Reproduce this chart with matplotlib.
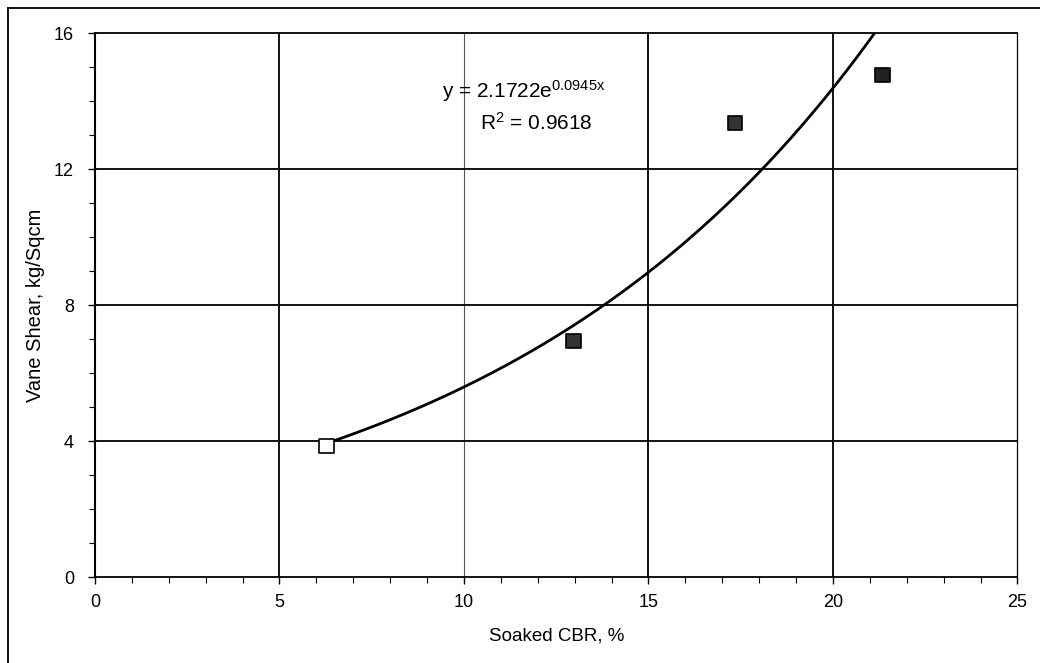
import numpy as np
import matplotlib
matplotlib.use("Agg")
import matplotlib.pyplot as plt
from matplotlib.lines import Line2D
from matplotlib.ticker import MultipleLocator

plt.rcParams['font.family'] = ['Liberation Sans', 'DejaVu Sans']
plt.rcParams['mathtext.default'] = 'regular'

# Measured pairs: soaked CBR (%) vs vane shear (kg/sq cm)
cbr = [6.27, 12.97, 17.35, 21.34]
vane_shear = [3.85, 6.94, 13.35, 14.76]
marker_faces = ['white', '#333333', '#333333', '#222222']

# Exponential trendline coefficients y = a * exp(b x)
fit_a = 2.1722
fit_b = 0.0945
fit_r2 = 0.9618

x_ticks = [0, 5, 10, 15, 20, 25]
y_ticks = [0, 4, 8, 12, 16]

fig = plt.figure(figsize=(10.4, 6.63), dpi=100)
ax = fig.add_axes([0.0913, 0.1297, 0.8870, 0.8205])

ax.set_xlim(0, 25)
ax.set_ylim(0, 16)
ax.set_xticks(x_ticks)
ax.set_yticks(y_ticks)
ax.xaxis.set_minor_locator(MultipleLocator(1))
ax.yaxis.set_minor_locator(MultipleLocator(1))
ax.tick_params(axis='both', which='major', direction='out', length=5, width=1,
               labelsize=13)
ax.tick_params(axis='x', which='major', pad=7)
ax.tick_params(axis='y', which='major', pad=10)
ax.tick_params(axis='both', which='minor', direction='out', length=4, width=0.8)

# gridlines
for xv in x_ticks[1:-1]:
    lw, col = (0.8, '#555555') if xv == 10 else (1.3, 'black')
    ax.axvline(xv, color=col, lw=lw, zorder=1)
for yv in y_ticks[1:-1]:
    ax.axhline(yv, color='black', lw=1.3, zorder=1)

for side in ['left', 'bottom', 'top', 'right']:
    ax.spines[side].set_color('black')
ax.spines['left'].set_linewidth(1.5)
ax.spines['bottom'].set_linewidth(1.3)
ax.spines['top'].set_linewidth(1.3)
ax.spines['right'].set_linewidth(0.9)

# trendline over the data range
xs = np.linspace(min(cbr), max(cbr), 300)
ax.plot(xs, fit_a * np.exp(fit_b * xs), color='black', lw=2.0, zorder=3)

ax.scatter(cbr, vane_shear, marker='s', s=110, c=marker_faces,
           edgecolors='black', linewidths=1.2, zorder=4)

eq_text = 'y = %.4fe$^{%.4fx}$' % (fit_a, fit_b)
r2_text = 'R$^{2}$ = %.4f' % fit_r2
ax.text(0.465, 0.893, eq_text, transform=ax.transAxes,
        ha='center', va='center', fontsize=15)
ax.text(0.478, 0.835, r2_text, transform=ax.transAxes,
        ha='center', va='center', fontsize=15)

ax.set_xlabel('Soaked CBR, %', fontsize=13.5)
ax.set_ylabel('Vane Shear, kg/Sqcm', fontsize=14.5)
ax.xaxis.set_label_coords(0.5, -0.092)
ax.yaxis.set_label_coords(-0.054, 0.5)

# outer chart frame (top and left edges)
fig.add_artist(Line2D([8 / 1040, 1.0], [1 - 8 / 663, 1 - 8 / 663],
                      transform=fig.transFigure, color='black', lw=1.3))
fig.add_artist(Line2D([8 / 1040, 8 / 1040], [0.0, 1 - 8 / 663],
                      transform=fig.transFigure, color='black', lw=1.3))

fig.savefig('out.png', dpi=100)
